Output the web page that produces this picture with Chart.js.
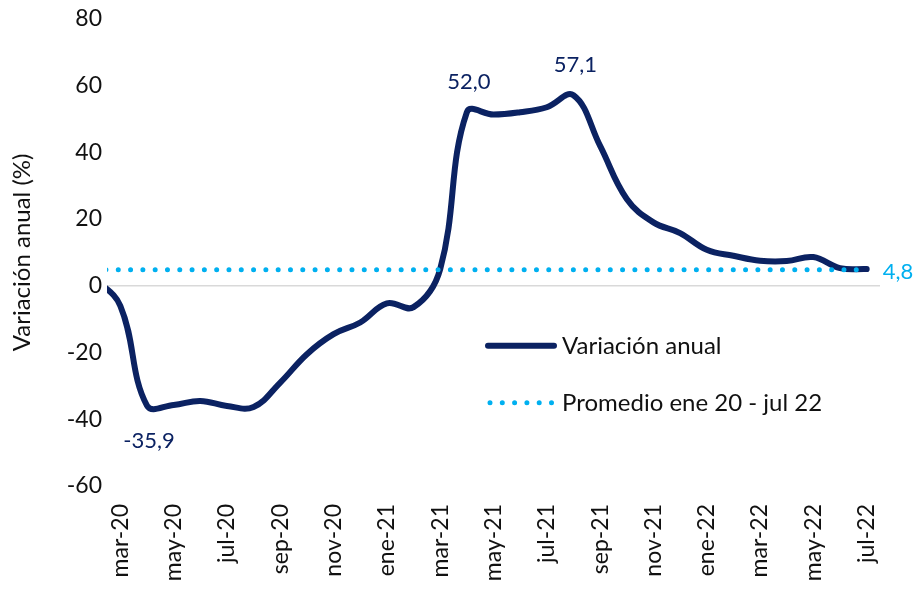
<!DOCTYPE html>
<html><head><meta charset="utf-8">
<script src="https://cdn.jsdelivr.net/npm/chart.js@4.4.1/dist/chart.umd.min.js"></script>
<style>html,body{margin:0;padding:0;background:#fff}#wrap{width:914px;height:589px;position:relative}</style>
</head><body><div id="wrap"><canvas id="c"></canvas></div>
<script>
const months = ['feb-20','mar-20','abr-20','may-20','jun-20','jul-20','ago-20','sep-20','oct-20','nov-20','dic-20',
  'ene-21','feb-21','mar-21','abr-21','may-21','jun-21','jul-21','ago-21','sep-21','oct-21','nov-21','dic-21',
  'ene-22','feb-22','mar-22','abr-22','may-22','jun-22','jul-22'];
const variacion = [2.5,-6.0,-35.9,-35.7,-34.5,-36.0,-36.3,-29.0,-20.5,-14.5,-11.0,
  -5.3,-6.4,5.0,52.0,51.3,52.0,53.5,57.1,41.9,26.0,19.0,15.8,
  10.8,9.0,7.5,7.4,8.6,5.3,5.0];
const promedio = 4.8;
const tickLabels = ['mar-20','may-20','jul-20','sep-20','nov-20','ene-21','mar-21','may-21','jul-21','sep-21','nov-21','ene-22','mar-22','may-22','jul-22'];
const labelledMonths = ['abr-20','abr-21','ago-21'];
const yMin = -60, yMax = 80, yStep = 20;
const seriesNames = ['Variación anual','Promedio ene 20 - jul 22'];
const yTitle = 'Variación anual (%)';

const NAVY = '#0b2262', CYAN = '#00b0f0';
const FONT = 'Lato';
const fmt = v => v.toFixed(1).replace('.', ',');

const promedioData = months.map((m, i) => ({x: i, y: promedio}));
const variacionData = months.map((m, i) => ({x: i, y: variacion[i]}));

const labelsPlugin = {
  id: 'valueLabels',
  afterDatasetsDraw(chart) {
    const ctx = chart.ctx;
    const metaV = chart.getDatasetMeta(1);
    const metaP = chart.getDatasetMeta(0);
    ctx.save();
    ctx.font = '22px ' + FONT;
    ctx.textBaseline = 'middle';
    ctx.textAlign = 'center';
    ctx.fillStyle = NAVY;
    labelledMonths.forEach(m => {
      const i = months.indexOf(m);
      const p = metaV.data[i];
      const v = variacion[i];
      ctx.fillText(fmt(v), p.x + 2, v < 0 ? p.y + 35 : p.y - 30);
    });
    const last = metaP.data[metaP.data.length - 1];
    ctx.fillStyle = CYAN;
    ctx.textAlign = 'left';
    ctx.fillText(fmt(promedio), last.x + 16, last.y + 2);
    ctx.restore();
  }
};

const legendPlugin = {
  id: 'customLegend',
  afterDraw(chart) {
    const ctx = chart.ctx, a = chart.chartArea;
    const x0 = a.left + 381, y1 = a.top + 327, y2 = a.top + 384;
    ctx.save();
    ctx.strokeStyle = NAVY; ctx.lineWidth = 6; ctx.lineCap = 'round';
    ctx.beginPath(); ctx.moveTo(x0, y1); ctx.lineTo(x0 + 66, y1); ctx.stroke();
    ctx.strokeStyle = CYAN; ctx.lineWidth = 5; ctx.setLineDash([0, 12.3]);
    ctx.beginPath(); ctx.moveTo(x0 + 2, y2); ctx.lineTo(x0 + 66, y2); ctx.stroke();
    ctx.setLineDash([]);
    ctx.fillStyle = '#111';
    ctx.font = '24px ' + FONT; ctx.textBaseline = 'middle'; ctx.textAlign = 'left';
    ctx.fillText(seriesNames[0], x0 + 74, y1);
    ctx.fillText(seriesNames[1], x0 + 74, y2);
    ctx.restore();
  }
};

new Chart(document.getElementById('c'), {
  type: 'line',
  data: {
    datasets: [
      {label: seriesNames[1], data: promedioData, borderColor: CYAN, borderWidth: 5,
       borderDash: [0, 12.3], borderCapStyle: 'round', pointRadius: 0, tension: 0, fill: false},
      {label: seriesNames[0], data: variacionData, borderColor: NAVY, borderWidth: 6,
       pointRadius: 0, tension: 0.4, fill: false, borderCapStyle: 'round', borderJoinStyle: 'round'}
    ]
  },
  options: {
    responsive: true, maintainAspectRatio: false, animation: false,
    layout: {padding: {top: 4, right: 34, bottom: 0, left: 0}},
    plugins: {legend: {display: false}, tooltip: {enabled: false}},
    scales: {
      x: {
        type: 'linear', min: 0.5, max: months.length - 0.5,
        afterBuildTicks: s => { s.ticks = tickLabels.map(l => ({value: months.indexOf(l)})); },
        afterFit: s => { s.height = 103; },
        grid: {display: false}, border: {display: false},
        ticks: {autoSkip: false, maxRotation: 90, minRotation: 90, padding: 10,
          color: '#111', font: {family: FONT, size: 23},
          callback: v => months[v]}
      },
      y: {
        min: yMin, max: yMax,
        afterFit: s => { s.width = 107; },
        grid: {drawTicks: false, lineWidth: 1.5,
          color: c => c.tick && c.tick.value === 0 ? '#d9d9d9' : 'rgba(0,0,0,0)'},
        border: {display: false},
        ticks: {stepSize: yStep, padding: 5, color: '#111', font: {family: FONT, size: 23}},
        title: {display: true, text: yTitle, color: '#111', font: {family: FONT, size: 24},
          padding: {top: 8, bottom: 0}}
      }
    }
  },
  plugins: [labelsPlugin, legendPlugin]
});
</script></body></html>
